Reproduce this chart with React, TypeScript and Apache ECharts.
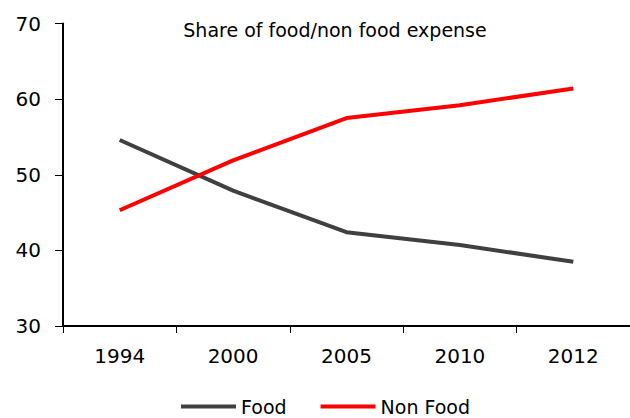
import React, { useEffect, useRef } from "react";
import * as echarts from "echarts";

const years = ["1994", "2000", "2005", "2010", "2012"];
const foodShare = [54.6, 47.9, 42.4, 40.7, 38.5];
const nonFoodShare = [45.3, 51.9, 57.5, 59.2, 61.4];
const yTicks = { min: 30, max: 70, interval: 10 };

const FONT = "'DejaVu Sans', 'Liberation Sans', sans-serif";

export default function App() {
  const ref = useRef<HTMLDivElement>(null);

  useEffect(() => {
    if (!ref.current) return;
    const chart = echarts.init(ref.current, undefined, { renderer: "svg" });
    chart.setOption({
      animation: false,
      backgroundColor: "#ffffff",
      title: {
        text: "Share of food/non food expense",
        left: 330,
        top: 15,
        textAlign: "center",
        textStyle: { fontFamily: FONT, fontSize: 19, fontWeight: "normal", color: "#000" },
      },
      legend: {
        top: 392,
        left: 176,
        itemWidth: 55,
        itemHeight: 4,
        itemGap: 34,
        itemTextGap: 5,
        icon: "rect",
        textStyle: { fontFamily: FONT, fontSize: 19, color: "#000" },
        data: ["Food", "Non Food"],
      },
      grid: { left: 63, right: -8, top: 23.5, bottom: 92, containLabel: false },
      xAxis: {
        type: "category",
        data: years,
        boundaryGap: true,
        axisLine: { lineStyle: { color: "#000", width: 2 } },
        axisTick: { show: true, length: 7, lineStyle: { color: "#000", width: 1 } },
        axisLabel: { fontFamily: FONT, fontSize: 20, color: "#000", margin: 20 },
      },
      yAxis: {
        type: "value",
        min: yTicks.min,
        max: yTicks.max,
        interval: yTicks.interval,
        splitLine: { show: false },
        axisLine: { show: true, lineStyle: { color: "#000", width: 2 } },
        axisTick: { show: true, length: 8, lineStyle: { color: "#000", width: 1 } },
        axisLabel: { fontFamily: FONT, fontSize: 20, color: "#000", margin: 22 },
      },
      series: [
        {
          name: "Food",
          type: "line",
          data: foodShare,
          symbol: "none",
          lineStyle: { color: "#404040", width: 4 },
          itemStyle: { color: "#404040" },
        },
        {
          name: "Non Food",
          type: "line",
          data: nonFoodShare,
          symbol: "none",
          lineStyle: { color: "#ff0000", width: 4 },
          itemStyle: { color: "#ff0000" },
        },
      ],
    });
    return () => chart.dispose();
  }, []);

  return <div ref={ref} style={{ width: 630, height: 418, position: "absolute", left: 0, top: 0 }} />;
}
